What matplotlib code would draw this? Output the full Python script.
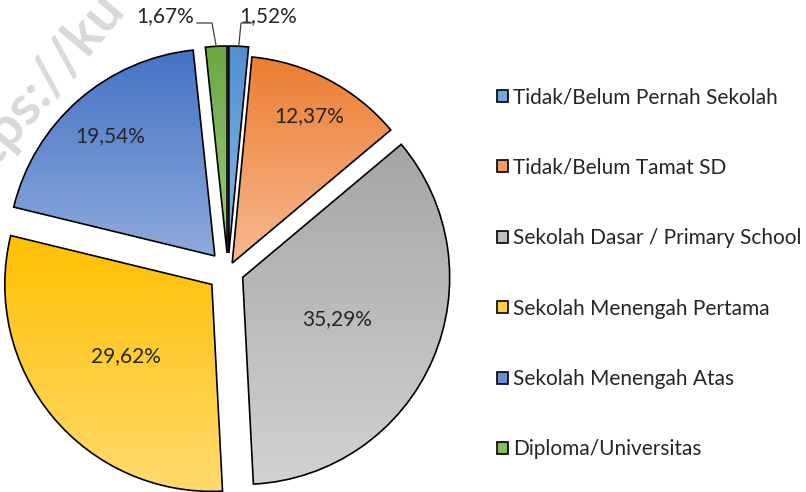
import numpy as np
import matplotlib.pyplot as plt
import matplotlib.patches as mpatches
from matplotlib.colors import LinearSegmentedColormap

plt.rcParams['font.family'] = ['Lato', 'DejaVu Sans']

# --- data ---
categories = [
    "Tidak/Belum Pernah Sekolah",
    "Tidak/Belum Tamat SD",
    "Sekolah Dasar / Primary School",
    "Sekolah Menengah Pertama",
    "Sekolah Menengah Atas",
    "Diploma/Universitas",
]
values = [1.52, 12.37, 35.29, 29.62, 19.54, 1.67]
pct_labels = [f"{v:.2f}".replace(".", ",") + "%" for v in values]

# --- style ---
top_colors = ["#4F8FCF", "#ED7D31", "#A5A5A5", "#FFC000", "#4472C4", "#6AA842"]
bot_colors = ["#8DB8E6", "#F6B992", "#D2D2D2", "#FFDA6E", "#8EAADC", "#9DCB7E"]
mid_colors = ["#6FA6DC", "#F19C65", "#BEBEBE", "#FFCF40", "#6A8ED0", "#85BD60"]
TXT = "#262626"

W, H = 806, 492
R = 207
CENTER = (228, H - 271)
explode_px = [18, 9, 16, 21, 20, 18]
label_dist = [None, 0.80, 0.50, 0.54, 0.77, None]
# callouts for the thin slices: text pos, horizontal leader (x0, x1) at y
callouts = {0: ((268, 16), (252, 241)), 5: ((165, 16), (197, 212))}
LEADER_Y = 23

fig = plt.figure(figsize=(W / 100, H / 100), dpi=100)
ax = fig.add_axes([0, 0, 1, 1])

# watermark behind the pie
ax.text(-70, H - 202, "https://ku", rotation=50, fontsize=40, fontweight="bold",
        color="#d9d9d9", ha="left", va="baseline", zorder=0)

wedges, _ = ax.pie(values, radius=R, center=CENTER, startangle=90, counterclock=False,
                   explode=explode_px, colors=mid_colors, frame=True,
                   wedgeprops=dict(edgecolor="black", linewidth=1.2))

grad = np.linspace(0, 1, 256).reshape(-1, 1)
for i, w in enumerate(wedges):
    ext = w.get_path().get_extents()
    cmap = LinearSegmentedColormap.from_list(f"g{i}", [top_colors[i], bot_colors[i]])
    im = ax.imshow(grad, extent=[ext.x0, ext.x1, ext.y0, ext.y1], origin="upper",
                   cmap=cmap, aspect="auto", zorder=2, interpolation="bilinear")
    im.set_clip_path(w)
    w.set_facecolor("none")
    w.set_zorder(3)

    theta = np.deg2rad((w.theta1 + w.theta2) / 2)
    cx, cy = w.center
    if label_dist[i] is not None:
        d = R * label_dist[i]
        ax.text(cx + d * np.cos(theta), cy + d * np.sin(theta), pct_labels[i],
                ha="center", va="center", fontsize=15, color=TXT, zorder=4)
    else:
        (tx, ty), (lx0, lx1) = callouts[i]
        ax.text(tx, H - ty, pct_labels[i], ha="center", va="center",
                fontsize=15, color=TXT, zorder=4)
        px, py = cx + R * np.cos(theta), cy + R * np.sin(theta)
        ax.plot([lx0, lx1, px], [H - LEADER_Y, H - LEADER_Y, py],
                color="#404040", lw=0.9, zorder=4)

handles = [mpatches.Patch(facecolor=c, edgecolor="black", linewidth=1.2) for c in mid_colors]
leg = ax.legend(handles, categories, loc="upper left", bbox_to_anchor=(489 / W, 1 - 79 / H),
                frameon=False, fontsize=15, handlelength=0.5, handleheight=0.5,
                handletextpad=0.25, labelspacing=2.42, borderaxespad=0)
for t in leg.get_texts():
    t.set_color(TXT)

ax.set_xlim(0, W)
ax.set_ylim(0, H)
ax.set_aspect("equal")
ax.axis("off")

fig.savefig("out.png", dpi=100)
